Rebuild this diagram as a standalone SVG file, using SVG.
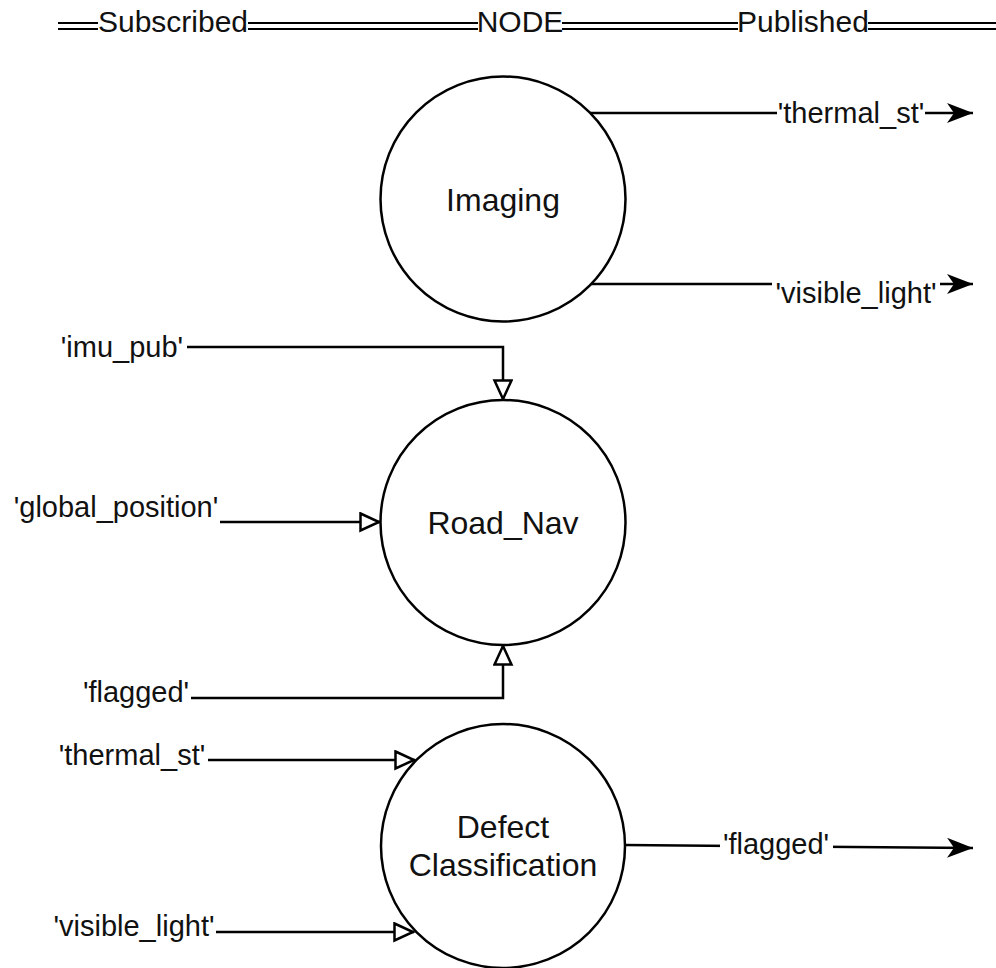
<svg xmlns="http://www.w3.org/2000/svg" width="996" height="968" viewBox="0 0 996 968">
  <style>
    text { font-family: "Liberation Sans", Arial, sans-serif; font-size: 29px; fill: #111111; }
    .mid { text-anchor: middle; }
    .head { font-size: 30px; }
    .name { font-size: 32px; }
    .node { fill: #ffffff; stroke: #000000; stroke-width: 2.5; }
    .wire { fill: none; stroke: #000000; stroke-width: 2.5; }
    .rule { fill: none; stroke: #000000; stroke-width: 2.2; }
    .lblbg { fill: #ffffff; }
  </style>
  <defs>
    <marker id="solid" markerUnits="userSpaceOnUse" markerWidth="28" markerHeight="22" refX="26" refY="10" orient="auto">
      <path d="M0,0 L26,10 L0,20 L7,10 z" fill="#000000"/>
    </marker>
    <marker id="hollow" markerUnits="userSpaceOnUse" markerWidth="24" markerHeight="22" refX="21" refY="10" orient="auto">
      <path d="M1.5,1.5 L20,10 L1.5,18.5 z" fill="#ffffff" stroke="#000000" stroke-width="2.5"/>
    </marker>
  </defs>

  <rect width="996" height="968" fill="#ffffff"/>

  <!-- header: column titles joined by double rules -->
  <g id="header">
    <g class="rule">
      <line x1="58" y1="23" x2="98" y2="23"/><line x1="58" y1="29" x2="98" y2="29"/>
      <line x1="248" y1="23" x2="478" y2="23"/><line x1="248" y1="29" x2="478" y2="29"/>
      <line x1="562" y1="23" x2="738" y2="23"/><line x1="562" y1="29" x2="738" y2="29"/>
      <line x1="868" y1="23" x2="996" y2="23"/><line x1="868" y1="29" x2="996" y2="29"/>
    </g>
    <text x="173" y="32" class="mid head">Subscribed</text>
    <text x="520" y="32" class="mid head">NODE</text>
    <text x="803" y="32" class="mid head">Published</text>
  </g>

  <!-- topic connectors -->
  <g id="connectors">
    <!-- Imaging outputs -->
    <path class="wire" d="M590,113 L973,113" marker-end="url(#solid)"/>
    <path class="wire" d="M590,284 L973,284" marker-end="url(#solid)"/>
    <!-- Road_Nav inputs -->
    <path class="wire" d="M187,347 L503,347 L503,400" marker-end="url(#hollow)"/>
    <path class="wire" d="M220,522 L380,522" marker-end="url(#hollow)"/>
    <path class="wire" d="M191,698 L503,698 L503,645" marker-end="url(#hollow)"/>
    <!-- Defect Classification inputs -->
    <path class="wire" d="M208,760 L415,760" marker-end="url(#hollow)"/>
    <path class="wire" d="M216,932 L414,932" marker-end="url(#hollow)"/>
    <!-- Defect Classification output -->
    <path class="wire" d="M625,845 L973,848" marker-end="url(#solid)"/>

    <!-- topic labels -->
    <rect class="lblbg" x="777" y="100" width="148" height="30"/>
    <text x="851" y="123" class="mid">'thermal_st'</text>
    <rect class="lblbg" x="772" y="278" width="168" height="32"/>
    <text x="856" y="303" class="mid">'visible_light'</text>
    <text x="122" y="357" class="mid">'imu_pub'</text>
    <text x="116" y="517" class="mid">'global_position'</text>
    <text x="136" y="702" class="mid">'flagged'</text>
    <text x="132" y="765" class="mid">'thermal_st'</text>
    <text x="134" y="936" class="mid">'visible_light'</text>
    <rect class="lblbg" x="720" y="832" width="113" height="30"/>
    <text x="776" y="854" class="mid">'flagged'</text>
  </g>

  <g id="imaging">
    <circle class="node" cx="503" cy="199" r="122.5"/>
    <text x="503" y="210.5" class="mid name">Imaging</text>
  </g>

  <g id="road_nav">
    <circle class="node" cx="503" cy="522.5" r="122.5"/>
    <text x="503" y="533.5" class="mid name">Road_Nav</text>
  </g>

  <g id="defect_classification">
    <circle class="node" cx="503" cy="846" r="122"/>
    <text x="503" y="837.5" class="mid name">Defect</text>
    <text x="503" y="875.5" class="mid name">Classification</text>
  </g>
</svg>
